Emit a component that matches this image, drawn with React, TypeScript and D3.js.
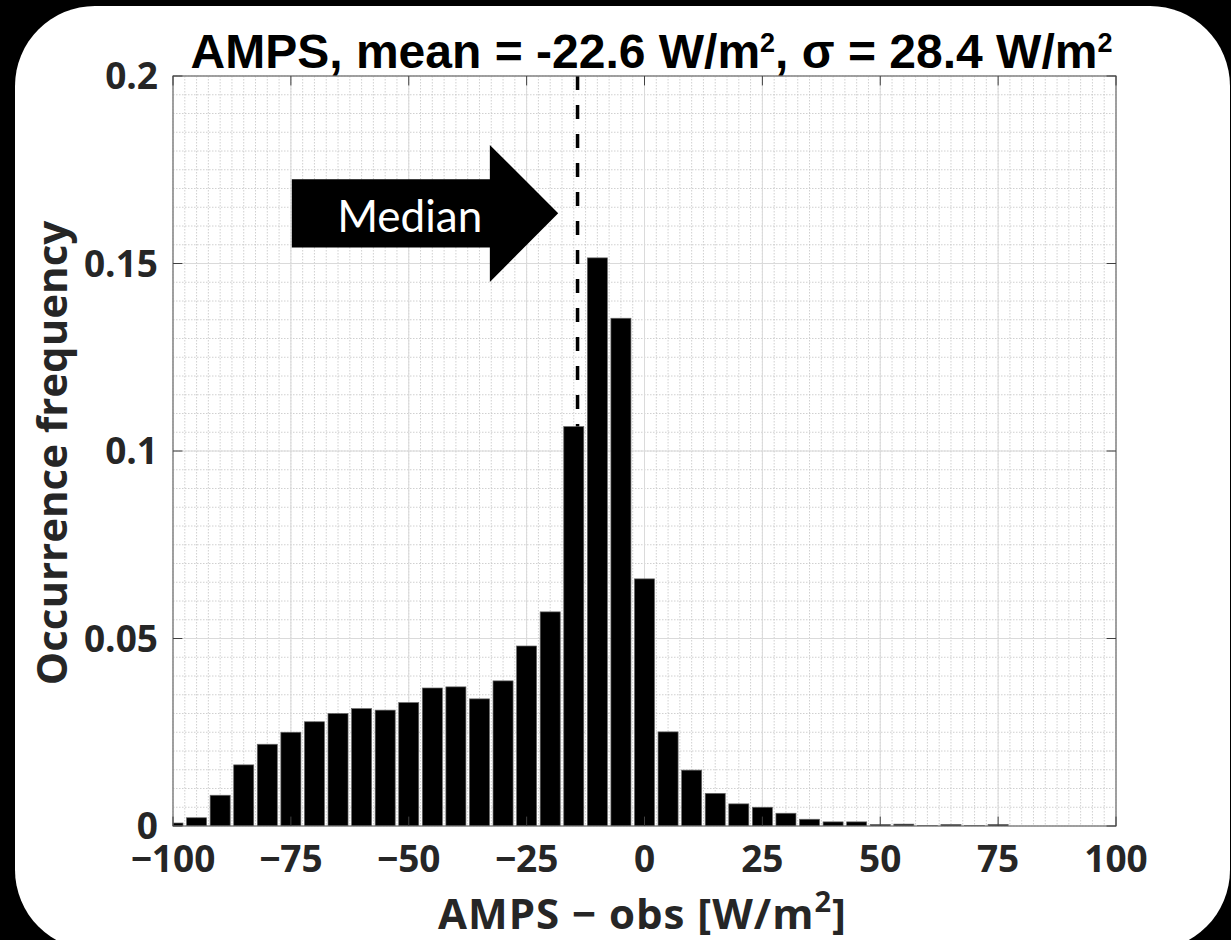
import React from "react";
import * as d3 from "d3";

const binCenters = [-100, -95, -90, -85, -80, -75, -70, -65, -60, -55, -50, -45, -40, -35, -30, -25, -20, -15, -10, -5, 0, 5, 10, 15, 20, 25, 30, 35, 40, 45, 50, 55, 60, 65, 70, 75, 80, 85, 90, 95, 100];
const frequencies = [0.0008, 0.0022, 0.0082, 0.0163, 0.0218, 0.025, 0.0278, 0.030, 0.0313, 0.0309, 0.0329, 0.0368, 0.0371, 0.0339, 0.0387, 0.048, 0.0571, 0.1065, 0.1515, 0.1354, 0.0659, 0.0251, 0.0149, 0.0087, 0.0059, 0.005, 0.0034, 0.0018, 0.0011, 0.0011, 0.0004, 0.0005, 0.0001, 0.0004, 0.0001, 0.0004, 0, 0, 0, 0, 0];
const xTicks = [-100, -75, -50, -25, 0, 25, 50, 75, 100];
const yTicks = [0, 0.05, 0.1, 0.15, 0.2];
const yTickLabels = ["0", "0.05", "0.1", "0.15", "0.2"];
const medianValue = -14.2;
const titleParts = ["AMPS, mean = -22.6 W/m", "2", ", σ = 28.4 W/m", "2"];
const yLabel = "Occurrence frequency";
const arrowLabel = "Median";

const W = 1231;
const H = 940;
const L = 173, R = 1116, T = 76, B = 826;
const BIN = 5;
const BAR_FRAC = 0.85;

export default function App() {
  const x = d3.scaleLinear().domain([-100, 100]).range([L, R]);
  const y = d3.scaleLinear().domain([0, 0.2]).range([B, T]);
  const minorX = d3.range(-100, 100.01, 2.5);
  const minorY = d3.range(0, 0.2001, 0.005);
  const tickLen = 9.4;
  const tickFont = "'Open Sans', sans-serif";

  // arrow annotation in data coordinates
  const ax0 = -74.8, ax1 = -32.8, axTip = -18.3;
  const ayTop = 0.1725, ayBot = 0.1543, ayHeadTop = 0.1816, ayHeadBot = 0.1451, ayMid = 0.1634;
  const arrowPath = [
    [x(ax0), y(ayTop)], [x(ax1), y(ayTop)], [x(ax1), y(ayHeadTop)], [x(axTip), y(ayMid)],
    [x(ax1), y(ayHeadBot)], [x(ax1), y(ayBot)], [x(ax0), y(ayBot)],
  ];
  const arrowD = d3.line()(arrowPath as [number, number][]) + "Z";

  return (
    <svg width={W} height={H} style={{ position: "absolute", left: 0, top: 0 }}>
      <defs>
        <clipPath id="plotclip">
          <rect x={L} y={T} width={R - L} height={B - T} />
        </clipPath>
      </defs>
      <rect x={0} y={0} width={W} height={H} fill="#000" />
      <rect x={15} y={6} width={1215} height={944} rx={80} ry={80} fill="#fff" />
      <rect x={L} y={T} width={R - L} height={B - T} fill="#fff" />
      {/* minor grid */}
      <g stroke="#c4c4c4" strokeWidth={0.8} strokeDasharray="1.5,1.5">
        {minorX.map((v, i) => (
          <line key={"mx" + i} x1={x(v)} x2={x(v)} y1={T} y2={B} />
        ))}
        {minorY.map((v, i) => (
          <line key={"my" + i} x1={L} x2={R} y1={y(v)} y2={y(v)} />
        ))}
      </g>
      {/* major grid */}
      <g stroke="#dadada" strokeWidth={1}>
        {xTicks.map((v, i) => (
          <line key={"gx" + i} x1={x(v)} x2={x(v)} y1={T} y2={B} />
        ))}
        {yTicks.map((v, i) => (
          <line key={"gy" + i} x1={L} x2={R} y1={y(v)} y2={y(v)} />
        ))}
      </g>
      {/* median line */}
      <line x1={x(medianValue)} x2={x(medianValue)} y1={y(0.2)} y2={y(0)} stroke="#000" strokeWidth={3.5} strokeDasharray="14,15" />
      {/* bars */}
      <g clipPath="url(#plotclip)">
        {binCenters.map((c, i) =>
          frequencies[i] > 0 ? (
            <rect
              key={"b" + i}
              x={x(c - (BIN * BAR_FRAC) / 2)}
              width={x(c + (BIN * BAR_FRAC) / 2) - x(c - (BIN * BAR_FRAC) / 2)}
              y={y(frequencies[i])}
              height={y(0) - y(frequencies[i])}
              fill="#000"
              stroke="#666"
              strokeWidth={0.7}
            />
          ) : null
        )}
      </g>
      {/* axes box */}
      <rect x={L} y={T} width={R - L} height={B - T} fill="none" stroke="#707070" strokeWidth={1.2} />
      {/* ticks */}
      <g stroke="#404040" strokeWidth={1}>
        {xTicks.map((v, i) => (
          <g key={"tx" + i}>
            <line x1={x(v)} x2={x(v)} y1={B} y2={B - tickLen} />
            <line x1={x(v)} x2={x(v)} y1={T} y2={T + tickLen} />
          </g>
        ))}
        {yTicks.map((v, i) => (
          <g key={"ty" + i}>
            <line x1={L} x2={L + tickLen} y1={y(v)} y2={y(v)} />
            <line x1={R} x2={R - tickLen} y1={y(v)} y2={y(v)} />
          </g>
        ))}
      </g>
      {/* tick labels */}
      <g fill="#262626" fontFamily={tickFont} fontWeight={700} fontSize={37}>
        {xTicks.map((v, i) => (
          <text key={"lx" + i} x={x(v)} y={B + 46} textAnchor="middle">
            {v < 0 ? "\u2212" + Math.abs(v) : String(v)}
          </text>
        ))}
        {yTicks.map((v, i) => (
          <text key={"ly" + i} x={L - 15} y={y(v) + 13} textAnchor="end">
            {yTickLabels[i]}
          </text>
        ))}
      </g>
      {/* axis labels */}
      <text
        x={67}
        y={(T + B) / 2 + 2}
        transform={`rotate(-90, 67, ${(T + B) / 2 + 2})`}
        textAnchor="middle"
        fill="#262626"
        fontFamily={tickFont}
        fontWeight={700}
        fontSize={42}
      >
        {yLabel}
      </text>
      <text x={(L + R) / 2 - 2} y={929} textAnchor="middle" fill="#262626" fontFamily={tickFont} fontWeight={700} fontSize={42} letterSpacing={1}>
        AMPS {"\u2212"} obs [W/m
        <tspan fontSize={29} dy={-17}>2</tspan>
        <tspan dy={17}>]</tspan>
      </text>
      {/* title */}
      <text x={651.5} y={68} textAnchor="middle" fill="#000" fontFamily="'Liberation Sans', Arial, sans-serif" fontWeight={700} fontSize={48}>
        {titleParts[0]}
        <tspan fontSize={27} dy={-16}>{titleParts[1]}</tspan>
        <tspan dy={16}>{titleParts[2]}</tspan>
        <tspan fontSize={27} dy={-16}>{titleParts[3]}</tspan>
      </text>
      {/* arrow annotation */}
      <path d={arrowD} fill="#000" />
      <text x={x(-49.8)} y={y(0.1585)} textAnchor="middle" fill="#fff" fontFamily="Lato, sans-serif" fontSize={44}>
        {arrowLabel}
      </text>
    </svg>
  );
}
